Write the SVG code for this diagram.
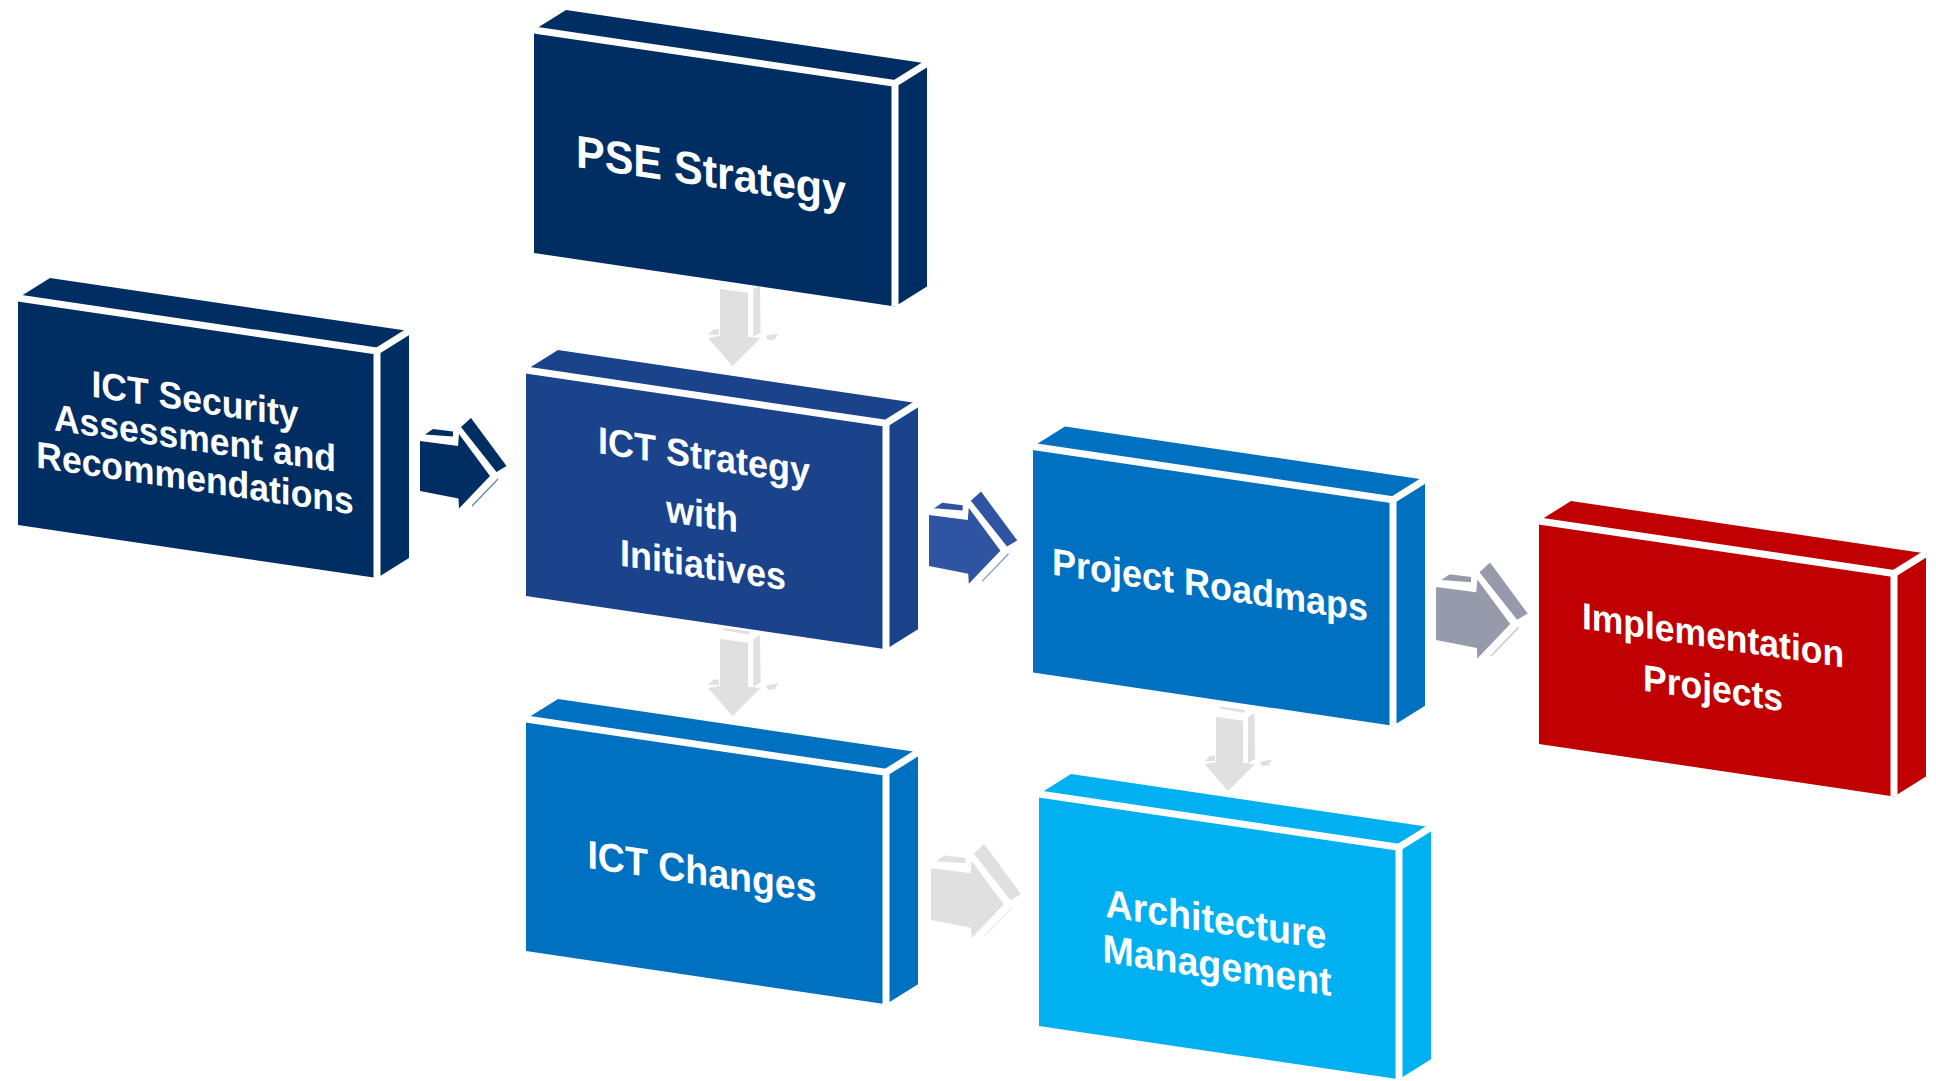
<svg xmlns="http://www.w3.org/2000/svg" xmlns:xlink="http://www.w3.org/1999/xlink" width="1936" height="1081" viewBox="0 0 1936 1081">
<style>
.navy{fill:#002E63}
.strat{fill:#1B438C}
.mid{fill:#0070C0}
.light{fill:#00B0F0}
.red{fill:#C00000}
.edge{fill:none;stroke:#FFFFFF;stroke-width:7;stroke-linejoin:miter;stroke-linecap:butt}
.lbl{font-family:"Liberation Sans",Arial,Helvetica,sans-serif;font-weight:bold;fill:#FFFFFF;text-anchor:middle}
</style>
<defs>
<g id="arR" fill="currentColor">
<polygon points="0,0 38,5 39,-7 70,35 39,67.5 38.5,57.5 0,50"/>
<polygon points="5,-6.5 13,-12 33,-9.5 33,-4.5"/>
<polygon points="41,-14 51,-23 86.5,25 76.5,31"/>
<line x1="52" y1="65" x2="78" y2="38" stroke="currentColor" stroke-width="1.2" opacity="0.6"/>
</g>
<g id="arD" fill="currentColor">
<polygon points="0,0 27,3.5 27,46 39,47 12,74 -11.5,47 0,45"/>
<polygon points="32,0.5 38.5,-4 39,42 32,46"/>
<polygon points="2,-9 5,-10.5 29,-7 28,-4"/>
<polygon points="-11.7,44 -6,39 -1,39 -1,44"/>
<polygon points="44,45 56,42.5 52.5,48.5 46,49"/>
</g>
</defs>
<rect width="1936" height="1081" fill="#FFFFFF"/>

<g id="connectors">
<use xlink:href="#arR" href="#arR" color="#002E63" transform="translate(420,441)"/>
<use xlink:href="#arR" href="#arR" color="#2E54A2" transform="translate(929,515) scale(1.02)"/>
<use xlink:href="#arR" href="#arR" color="#969AAB" transform="translate(1436,587) scale(1.06)"/>
<use xlink:href="#arR" href="#arR" color="#E0E0E0" transform="translate(931,868) scale(1.04)"/>
<use xlink:href="#arD" href="#arD" color="#E0E0E0" transform="translate(720,289) scale(1.04)"/>
<use xlink:href="#arD" href="#arD" color="#E0E0E0" transform="translate(720,639) scale(1.04)"/>
<use xlink:href="#arD" href="#arD" color="#E0E0E0" transform="translate(1216,717)"/>
</g>

<g id="pse-strategy">
<polygon class="navy" points="534,30 895,83.4 895,306.4 534,253"/>
<polygon class="navy" points="534,30 566,10 927,63.4 895,83.4"/>
<polygon class="navy" points="895,83.4 927,63.4 927,286.4 895,306.4"/>
<path class="edge" d="M534,30 L895,83.4 L895,306.4 M895,83.4 L927,63.4"/>
<text class="lbl" font-size="43" transform="translate(711,187) skewY(8.4) scale(1,1.06)">PSE Strategy</text>
</g>

<g id="ict-security">
<polygon class="navy" points="18,298 377,351.1 377,578.1 18,525"/>
<polygon class="navy" points="18,298 50,278 409,331.1 377,351.1"/>
<polygon class="navy" points="377,351.1 409,331.1 409,558.1 377,578.1"/>
<path class="edge" d="M18,298 L377,351.1 L377,578.1 M377,351.1 L409,331.1"/>
<text class="lbl" font-size="35.5" transform="translate(195,412) skewY(8.4) scale(1,1.06)">ICT Security</text>
<text class="lbl" font-size="35.5" transform="translate(195,451) skewY(8.4) scale(1,1.06)">Assessment and</text>
<text class="lbl" font-size="35.5" transform="translate(195,491) skewY(8.4) scale(1,1.06)">Recommendations</text>
</g>

<g id="ict-strategy">
<polygon class="strat" points="526,370 886,423.3 886,649.3 526,596"/>
<polygon class="strat" points="526,370 558,350 918,403.3 886,423.3"/>
<polygon class="strat" points="886,423.3 918,403.3 918,629.3 886,649.3"/>
<path class="edge" d="M526,370 L886,423.3 L886,649.3 M886,423.3 L918,403.3"/>
<text class="lbl" font-size="36" transform="translate(704,469) skewY(8.4) scale(1,1.06)">ICT Strategy</text>
<text class="lbl" font-size="36" transform="translate(702,527) skewY(8.4) scale(1,1.06)">with</text>
<text class="lbl" font-size="36" transform="translate(703,578) skewY(8.4) scale(1,1.06)">Initiatives</text>
</g>

<g id="ict-changes">
<polygon class="mid" points="526,719 886,772.3 886,1004.3 526,951"/>
<polygon class="mid" points="526,719 558,699 918,752.3 886,772.3"/>
<polygon class="mid" points="886,772.3 918,752.3 918,984.3 886,1004.3"/>
<path class="edge" d="M526,719 L886,772.3 L886,1004.3 M886,772.3 L918,752.3"/>
<text class="lbl" font-size="37.5" transform="translate(702,885) skewY(8.4) scale(1,1.06)">ICT Changes</text>
</g>

<g id="project-roadmaps">
<polygon class="mid" points="1033,446.5 1393,499.8 1393,725.8 1033,672.5"/>
<polygon class="mid" points="1033,446.5 1065,426.5 1425,479.8 1393,499.8"/>
<polygon class="mid" points="1393,499.8 1425,479.8 1425,705.8 1393,725.8"/>
<path class="edge" d="M1033,446.5 L1393,499.8 L1393,725.8 M1393,499.8 L1425,479.8"/>
<text class="lbl" font-size="36" transform="translate(1210,598) skewY(8.4) scale(1,1.06)">Project Roadmaps</text>
</g>

<g id="architecture-management">
<polygon class="light" points="1039,794 1399,847.3 1399,1079.3 1039,1026"/>
<polygon class="light" points="1039,794 1071,774 1431,827.3 1399,847.3"/>
<polygon class="light" points="1399,847.3 1431,827.3 1431,1059.3 1399,1079.3"/>
<path class="edge" d="M1039,794 L1399,847.3 L1399,1079.3 M1399,847.3 L1431,827.3"/>
<text class="lbl" font-size="37.5" transform="translate(1216,933) skewY(8.4) scale(1,1.06)">Architecture</text>
<text class="lbl" font-size="37.5" transform="translate(1217,979) skewY(8.4) scale(1,1.06)">Management</text>
</g>

<g id="implementation-projects">
<polygon class="red" points="1539,521 1894,573.5 1894,796.5 1539,744"/>
<polygon class="red" points="1539,521 1571,501 1926,553.5 1894,573.5"/>
<polygon class="red" points="1894,573.5 1926,553.5 1926,776.5 1894,796.5"/>
<path class="edge" d="M1539,521 L1894,573.5 L1894,796.5 M1894,573.5 L1926,553.5"/>
<text class="lbl" font-size="35.5" transform="translate(1713,648) skewY(8.4) scale(1,1.06)">Implementation</text>
<text class="lbl" font-size="35.5" transform="translate(1713,701) skewY(8.4) scale(1,1.06)">Projects</text>
</g>
</svg>
